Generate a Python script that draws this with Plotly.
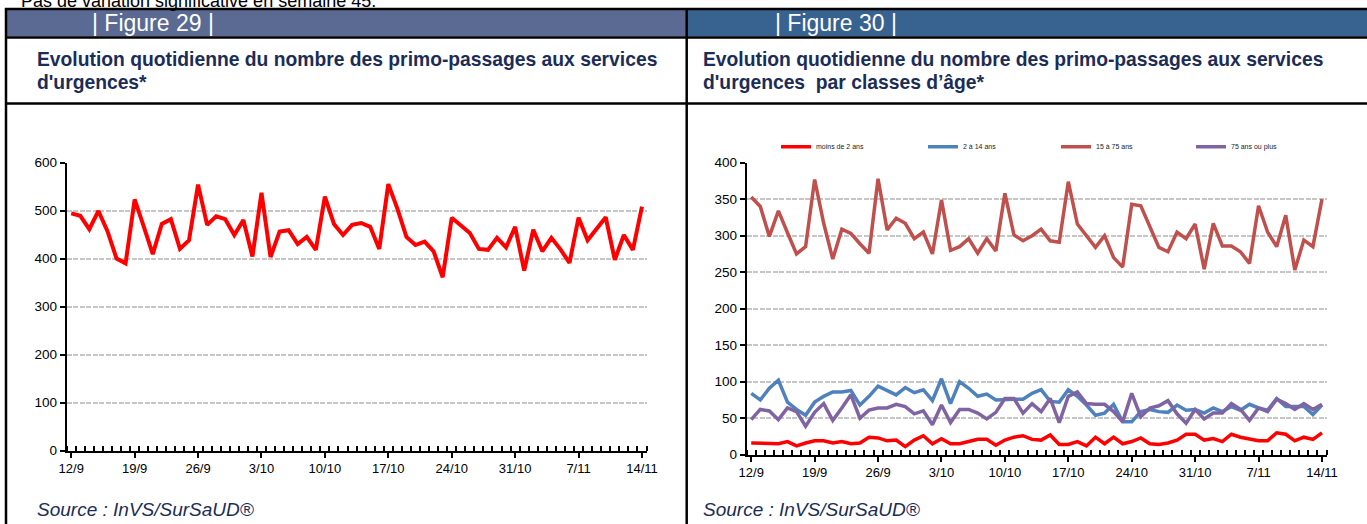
import plotly.graph_objects as go

W, H = 1367, 524

# ---------------- data ----------------
day_index = list(range(64))  # 12/9 .. 14/11
tick_positions = [0, 7, 14, 21, 28, 35, 42, 49, 56, 63]
tick_labels = ["12/9", "19/9", "26/9", "3/10", "10/10", "17/10", "24/10", "31/10", "7/11", "14/11"]

total_passages = [494, 489, 461, 499, 457, 400, 390, 523, 467, 409, 472, 482, 420, 438, 554, 470,
                  488, 482, 449, 480, 404, 537, 403, 456, 459, 430, 445, 418, 529, 472, 449, 470,
                  474, 466, 420, 555, 504, 445, 428, 435, 415, 361, 485, 470, 453, 420, 418, 443,
                  423, 466, 375, 460, 415, 443, 419, 391, 485, 438, 463, 486, 397, 449, 418, 508]

age_lt2 = [16, 16, 16, 15, 18, 12, 16, 19, 19, 16, 18, 15, 16, 24, 23, 19, 20, 11, 20, 26, 15,
           22, 15, 15, 18, 21, 21, 13, 20, 24, 26, 21, 20, 27, 14, 14, 18, 12, 24, 15, 24, 15,
           18, 23, 15, 14, 16, 20, 28, 28, 20, 22, 18, 28, 24, 21, 19, 19, 30, 28, 19, 24, 21, 30]

age_2_14 = [84, 75, 91, 102, 72, 62, 54, 72, 80, 86, 86, 88, 68, 80, 94, 88, 82, 92, 85, 89, 74,
            104, 70, 100, 91, 80, 83, 75, 76, 76, 76, 84, 89, 73, 72, 89, 80, 68, 54, 57, 69, 45,
            45, 59, 62, 59, 58, 68, 61, 62, 57, 64, 59, 66, 61, 69, 64, 61, 77, 66, 66, 66, 55, 68]

age_15_75 = [353, 340, 299, 334, 304, 275, 285, 377, 317, 268, 309, 303, 289, 276, 378, 308,
             324, 317, 296, 305, 275, 349, 280, 285, 296, 276, 296, 279, 358, 301, 293, 300,
             309, 293, 291, 374, 316, 300, 284, 300, 270, 257, 343, 341, 312, 284, 278, 305,
             296, 316, 254, 317, 286, 286, 278, 262, 341, 305, 285, 328, 253, 294, 285, 350]

age_75plus = [48, 62, 60, 48, 64, 59, 39, 58, 70, 47, 64, 82, 50, 61, 64, 64, 69, 66, 56, 60, 41,
              68, 44, 62, 62, 57, 49, 58, 77, 77, 57, 70, 59, 77, 44, 80, 86, 70, 69, 69, 59, 45,
              84, 52, 64, 67, 74, 56, 43, 62, 49, 57, 57, 70, 62, 47, 64, 59, 76, 70, 62, 70, 62, 69]

series_names = ["moins de 2 ans", "2 à 14 ans", "15 à 75 ans", "75 ans ou plus"]
series_colors = ["#ff0000", "#4f81bd", "#c0504d", "#8064a2"]

# ---------------- helpers ----------------
def px_x(x):
    return x / W

def px_y(y):
    return 1 - y / H

FONT = "Liberation Sans, Arial, sans-serif"
NAVY = "#1b2d57"

fig = go.Figure()

fig.add_trace(go.Scatter(x=day_index, y=total_passages, mode="lines",
                         line=dict(color="#ff0000", width=4),
                         xaxis="x", yaxis="y", showlegend=False, hoverinfo="skip"))

series_values = [age_lt2, age_2_14, age_15_75, age_75plus]
legend_ids = ["legend", "legend2", "legend3", "legend4"]
for name, vals, col, lg in zip(series_names, series_values, series_colors, legend_ids):
    fig.add_trace(go.Scatter(x=day_index, y=vals, mode="lines", name=name,
                             line=dict(color=col, width=3.5),
                             xaxis="x2", yaxis="y2", showlegend=True, legend=lg,
                             hoverinfo="skip"))

grid = dict(showgrid=True, gridcolor="#c6c6c6", gridwidth=2.4, griddash="5px,1.5px")

def xaxis_cfg(domain, anchor):
    return dict(domain=domain, anchor=anchor, range=[-0.5, 63.5],
                tickmode="array", tickvals=tick_positions, ticktext=tick_labels,
                ticks="outside", ticklen=5, tickwidth=1.5, tickcolor="black",
                showline=True, linecolor="black", linewidth=2,
                showgrid=False, zeroline=False, automargin=False,
                tickfont=dict(family=FONT, size=13, color="black"),
                minor=dict(tickmode="linear", tick0=-0.5, dtick=1, ticks="inside",
                           ticklen=5, tickwidth=1.5, tickcolor="black", showgrid=False),
                fixedrange=True)

def yaxis_cfg(domain, anchor, rng, dtick):
    d = dict(domain=domain, anchor=anchor, range=rng, dtick=dtick, tick0=0,
             ticks="outside", ticklen=5, tickwidth=1.5, tickcolor="black",
             showline=True, linecolor="black", linewidth=2, zeroline=False, automargin=False,
             tickfont=dict(family=FONT, size=13.5, color="black"), fixedrange=True)
    d.update(grid)
    return d

fig.update_layout(
    width=W, height=H,
    margin=dict(l=0, r=0, t=0, b=0, pad=0, autoexpand=False),
    paper_bgcolor="white", plot_bgcolor="white",
    xaxis=xaxis_cfg([px_x(66.7), px_x(646.5)], "y"),
    yaxis=yaxis_cfg([px_y(450.5), px_y(162.5)], "x", [0, 600], 100),
    xaxis2=xaxis_cfg([px_x(746.7), px_x(1326.5)], "y2"),
    yaxis2=yaxis_cfg([px_y(454.7), px_y(162.7)], "x2", [0, 400], 50),
)

leg_common = dict(orientation="h", yanchor="middle", y=px_y(146.7), xanchor="left",
                  font=dict(family=FONT, size=7, color="#222222"),
                  bgcolor="rgba(0,0,0,0)", borderwidth=0, itemwidth=30)
legend_x = [776, 923, 1056, 1191]
fig.update_layout(legend=dict(x=px_x(legend_x[0]), **leg_common),
                  legend2=dict(x=px_x(legend_x[1]), **leg_common),
                  legend3=dict(x=px_x(legend_x[2]), **leg_common),
                  legend4=dict(x=px_x(legend_x[3]), **leg_common))

shapes = []
# header bars
shapes.append(dict(type="rect", xref="paper", yref="paper", x0=px_x(6), x1=px_x(686),
                   y0=px_y(36.5), y1=px_y(9.5), fillcolor="#5a6a92", line_width=0, layer="below"))
shapes.append(dict(type="rect", xref="paper", yref="paper", x0=px_x(687.5), x1=1,
                   y0=px_y(36.5), y1=px_y(9.5), fillcolor="#386290", line_width=0, layer="below"))
# horizontal black lines
for yy in [9, 37.5, 103.5]:
    shapes.append(dict(type="line", xref="paper", yref="paper", x0=px_x(5), x1=1,
                       y0=px_y(yy), y1=px_y(yy), line=dict(color="black", width=2.5)))
# vertical black lines
for xx in [6, 686.7]:
    shapes.append(dict(type="line", xref="paper", yref="paper", x0=px_x(xx), x1=px_x(xx),
                       y0=px_y(8), y1=0, line=dict(color="black", width=2.5)))

annotations = []
annotations.append(dict(text="Pas de variation significative en semaine 45.", xref="paper", yref="paper",
                        x=px_x(19), y=px_y(13), xanchor="left", yanchor="bottom", showarrow=False,
                        font=dict(family=FONT, size=18, color="black")))
annotations.append(dict(text="| Figure 29 |", xref="paper", yref="paper",
                        x=px_x(90), y=px_y(23), xanchor="left", yanchor="middle", showarrow=False,
                        font=dict(family=FONT, size=23, color="white")))
annotations.append(dict(text="| Figure 30 |", xref="paper", yref="paper",
                        x=px_x(773), y=px_y(23), xanchor="left", yanchor="middle", showarrow=False,
                        font=dict(family=FONT, size=23, color="white")))
title_lines = {
    35: ["Evolution quotidienne du nombre des primo-passages aux services", "d'urgences*"],
    701: ["Evolution quotidienne du nombre des primo-passages aux services", "d'urgences  par classes d’âge*"],
}
for tx, lines in title_lines.items():
    for ty, line in zip([60, 83], lines):
        annotations.append(dict(text="<b>" + line + "</b>", xref="paper", yref="paper",
                                x=px_x(tx), y=px_y(ty), xanchor="left", yanchor="middle",
                                align="left", showarrow=False,
                                font=dict(family=FONT, size=19.3, color=NAVY)))
for sx in [35, 701]:
    annotations.append(dict(text="<i>Source : InVS/SurSaUD®</i>", xref="paper", yref="paper",
                            x=px_x(sx), y=px_y(509), xanchor="left", yanchor="middle", showarrow=False,
                            font=dict(family=FONT, size=19, color=NAVY)))

fig.update_layout(shapes=shapes, annotations=annotations)

fig.write_html("out.html",
               config=dict(displayModeBar=False, staticPlot=False),
               post_script="document.body.style.margin='0';document.body.style.overflow='hidden';")
